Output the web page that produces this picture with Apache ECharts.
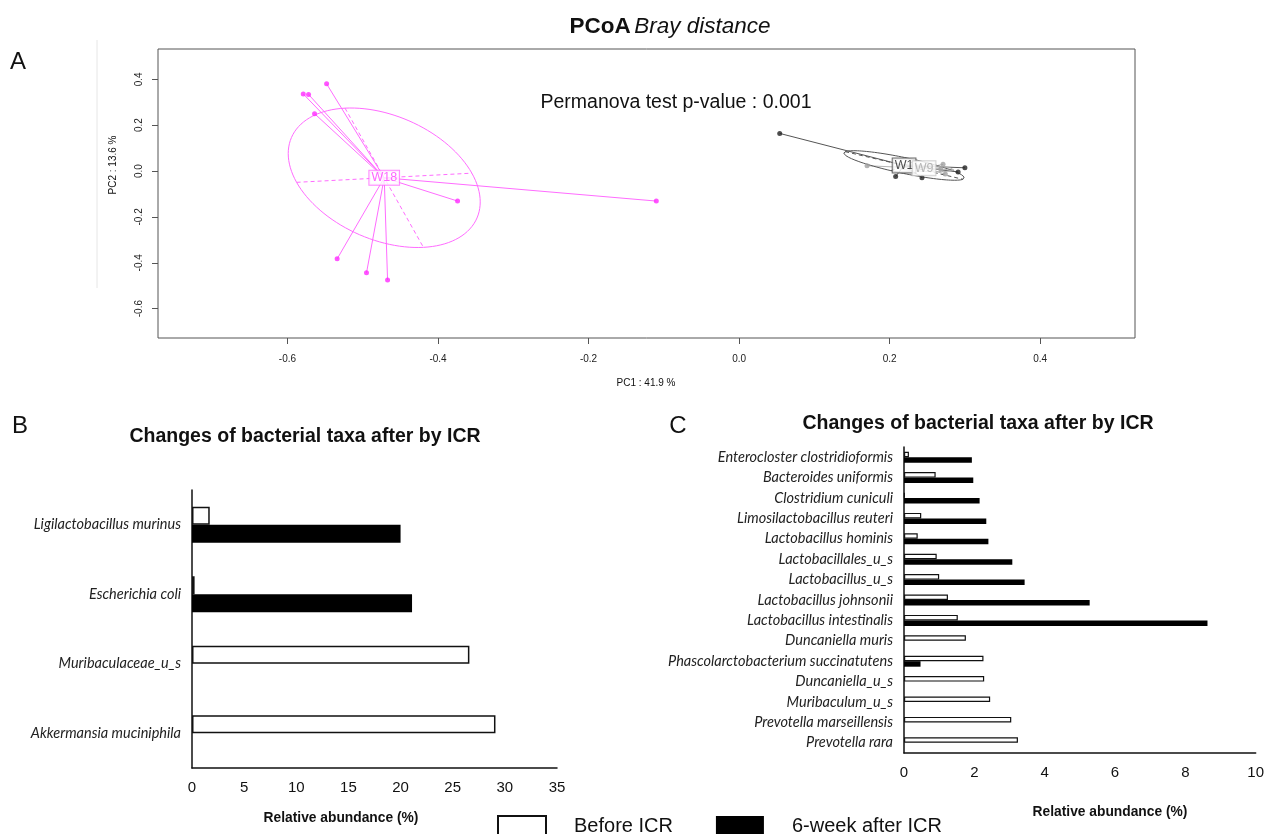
<!DOCTYPE html>
<html>
<head>
<meta charset="utf-8">
<script src="https://cdn.jsdelivr.net/npm/echarts@6/dist/echarts.min.js"></script>
<style>html,body{margin:0;padding:0;background:#fff}#c{width:1267px;height:834px}</style>
</head>
<body>
<div id="c"></div>
<script>
// ---------- Panel A data (PCoA, Bray distance) ----------
const w18Points = [[-0.579,0.336],[-0.572,0.334],[-0.548,0.380],[-0.564,0.250],[-0.374,-0.131],[-0.534,-0.383],[-0.495,-0.444],[-0.467,-0.475],[-0.110,-0.131]];
const w1Points  = [[0.054,0.164],[0.208,-0.024],[0.243,-0.029],[0.291,-0.004],[0.300,0.014]];
const w9Points  = [[0.170,0.023],[0.271,0.029],[0.268,0.009],[0.274,-0.013]];
const pcoaXTicks = [-0.6,-0.4,-0.2,0.0,0.2,0.4];
const pcoaYTicks = [-0.6,-0.4,-0.2,0.0,0.2,0.4];

// ---------- Panel B data ----------
const taxaB   = ['Ligilactobacillus murinus','Escherichia coli','Muribaculaceae_u_s','Akkermansia muciniphila'];
const beforeB = [1.7, 0.25, 26.6, 29.1];
const afterB  = [20.0, 21.1, 0, 0];

// ---------- Panel C data ----------
const taxaC = ['Enterocloster clostridioformis','Bacteroides uniformis','Clostridium cuniculi','Limosilactobacillus reuteri','Lactobacillus hominis','Lactobacillales_u_s','Lactobacillus_u_s','Lactobacillus johnsonii','Lactobacillus intestinalis','Duncaniella muris','Phascolarctobacterium succinatutens','Duncaniella_u_s','Muribaculum_u_s','Prevotella marseillensis','Prevotella rara'];
const beforeC = [0.14, 0.90, 0.02, 0.49, 0.39, 0.93, 1.00, 1.25, 1.53, 1.76, 2.26, 2.28, 2.45, 3.05, 3.24];
const afterC  = [1.93, 1.97, 2.15, 2.34, 2.40, 3.08, 3.43, 5.28, 8.63, 0, 0.47, 0, 0, 0, 0];

// ---------- helpers ----------
function groupStats(pts, k) {
  const n = pts.length;
  let mx = 0, my = 0;
  pts.forEach(p => { mx += p[0]; my += p[1]; });
  mx /= n; my /= n;
  let sxx = 0, syy = 0, sxy = 0;
  pts.forEach(p => { const dx = p[0]-mx, dy = p[1]-my; sxx += dx*dx; syy += dy*dy; sxy += dx*dy; });
  sxx /= n; syy /= n; sxy /= n;
  const tr = sxx + syy, det = sxx*syy - sxy*sxy;
  const disc = Math.sqrt(Math.max(tr*tr/4 - det, 0));
  const l1 = tr/2 + disc, l2 = Math.max(tr/2 - disc, 0);
  const th = 0.5*Math.atan2(2*sxy, sxx - syy);
  const v1 = [Math.cos(th), Math.sin(th)], v2 = [-Math.sin(th), Math.cos(th)];
  const a = k*Math.sqrt(l1), b = k*Math.sqrt(l2);
  const ell = [];
  for (let i = 0; i <= 120; i++) {
    const t = 2*Math.PI*i/120;
    ell.push([mx + a*Math.cos(t)*v1[0] + b*Math.sin(t)*v2[0], my + a*Math.cos(t)*v1[1] + b*Math.sin(t)*v2[1]]);
  }
  const axes = [
    {coords: [[mx - a*v1[0], my - a*v1[1]], [mx + a*v1[0], my + a*v1[1]]]},
    {coords: [[mx - b*v2[0], my - b*v2[1]], [mx + b*v2[0], my + b*v2[1]]]}
  ];
  const spokes = pts.map(p => ({coords: [[mx, my], p]}));
  return {center: [mx, my], ell, axes, spokes};
}

const K = 0.9;
const groups = [
  {name: 'W18', pts: w18Points, line: '#ff6cff', pt: '#ff2bff', text: '#ff3cff', border: '#ff6cff'},
  {name: 'W1',  pts: w1Points,  line: '#555555', pt: '#222222', text: '#222222', border: '#444444'},
  {name: 'W9',  pts: w9Points,  line: '#b4b4b4', pt: '#a0a0a0', text: '#a8a8a8', border: '#c4c4c4'}
];

const pcoaSeries = [];
groups.forEach(g => {
  const s = groupStats(g.pts, K);
  pcoaSeries.push({type: 'lines', coordinateSystem: 'cartesian2d', xAxisIndex: 0, yAxisIndex: 0, silent: true, z: 2,
    lineStyle: {color: g.line, width: 1, opacity: 1}, data: s.spokes});
  pcoaSeries.push({type: 'lines', coordinateSystem: 'cartesian2d', xAxisIndex: 0, yAxisIndex: 0, silent: true, z: 2,
    lineStyle: {color: g.line, width: 1, type: [4, 3], opacity: 1}, data: s.axes});
  pcoaSeries.push({type: 'line', xAxisIndex: 0, yAxisIndex: 0, data: s.ell, showSymbol: false, smooth: false, silent: true, z: 2,
    lineStyle: {color: g.line, width: 1}});
  pcoaSeries.push({type: 'scatter', xAxisIndex: 0, yAxisIndex: 0, data: g.pts, symbolSize: 5, z: 3,
    itemStyle: {color: g.pt}});
  pcoaSeries.push({type: 'scatter', xAxisIndex: 0, yAxisIndex: 0, data: [s.center], symbolSize: 2, z: 5,
    itemStyle: {color: 'rgba(255,255,255,0)'},
    label: {show: true, position: 'inside', formatter: g.name, color: g.text, fontSize: 12.5, fontFamily: 'Liberation Sans',
      backgroundColor: '#fff', borderColor: g.border, borderWidth: 1, padding: [1, 2, 0, 2]}});
});

const catLabel = {fontFamily: 'Lato', fontStyle: 'italic', fontSize: 14.5, color: '#222', margin: 11};
const blackAxis = {show: true, lineStyle: {color: '#111', width: 1.5}};
const center = {textAlign: 'center', textVerticalAlign: 'middle', align: 'center', verticalAlign: 'middle', fill: '#111'};
function txt(x, y, text, font, extra) {
  return Object.assign({type: 'text', x: x, y: y, silent: true, style: Object.assign({text: text, font: font}, center)}, extra || {});
}

const chart = echarts.init(document.getElementById('c'), null, {renderer: 'canvas'});
const option = {
  animation: false,
  backgroundColor: '#fff',
  textStyle: {fontFamily: 'Liberation Sans'},
  grid: [
    {left: 158, top: 49, width: 977, height: 289, show: true, borderColor: '#555', borderWidth: 1, backgroundColor: 'transparent'},
    {left: 192, top: 490, width: 365, height: 278},
    {left: 904, top: 447, width: 354, height: 306}
  ],
  xAxis: [
    {gridIndex: 0, type: 'value', min: -0.772, max: 0.526, splitLine: {show: false}, axisLine: {show: false, onZero: false},
      axisTick: {show: true, customValues: pcoaXTicks, length: 6, lineStyle: {color: '#555'}},
      axisLabel: {customValues: pcoaXTicks, formatter: v => v.toFixed(1), fontSize: 10, margin: 16, color: '#222'}},
    {gridIndex: 1, type: 'value', min: 0, max: 35, interval: 5, splitLine: {show: false}, axisLine: blackAxis,
      axisTick: {show: false}, axisLabel: {fontSize: 15, color: '#111', margin: 12}},
    {gridIndex: 2, type: 'value', min: 0, max: 10, interval: 2, splitLine: {show: false}, axisLine: blackAxis,
      axisTick: {show: false}, axisLabel: {fontSize: 15, color: '#111', margin: 12}}
  ],
  yAxis: [
    {gridIndex: 0, type: 'value', min: -0.728, max: 0.532, splitLine: {show: false}, axisLine: {show: false, onZero: false},
      axisTick: {show: true, customValues: pcoaYTicks, length: 6, lineStyle: {color: '#555'}},
      axisLabel: {customValues: pcoaYTicks, formatter: v => v.toFixed(1), fontSize: 10, margin: 14, color: '#222', rotate: 90}},
    {gridIndex: 1, type: 'category', data: taxaB, inverse: true, axisLine: blackAxis, axisTick: {show: false},
      axisLabel: catLabel},
    {gridIndex: 2, type: 'category', data: taxaC, inverse: true, axisLine: blackAxis, axisTick: {show: false},
      axisLabel: catLabel}
  ],
  legend: {
    left: 492, top: 810, itemWidth: 48, itemHeight: 20, itemGap: 43, icon: 'rect',
    data: ['Before ICR', '6-week after ICR'],
    textStyle: {fontSize: 20, color: '#111', fontFamily: 'Liberation Sans', padding: [0, 0, 0, 23]}
  },
  series: pcoaSeries.concat([
    {name: 'Before ICR', type: 'bar', xAxisIndex: 1, yAxisIndex: 1, data: beforeB, barWidth: 18, barGap: '0%',
      itemStyle: {color: '#fff', borderColor: '#111', borderWidth: 1.5}},
    {name: '6-week after ICR', type: 'bar', xAxisIndex: 1, yAxisIndex: 1, data: afterB, barWidth: 18, barGap: '0%',
      itemStyle: {color: '#000', borderColor: '#000', borderWidth: 0}},
    {name: 'Before ICR', type: 'bar', xAxisIndex: 2, yAxisIndex: 2, data: beforeC, barWidth: 5.5, barGap: '0%',
      itemStyle: {color: '#fff', borderColor: '#111', borderWidth: 1.2}},
    {name: '6-week after ICR', type: 'bar', xAxisIndex: 2, yAxisIndex: 2, data: afterC, barWidth: 5.5, barGap: '0%',
      itemStyle: {color: '#000', borderColor: '#000', borderWidth: 0}}
  ]),
  graphic: [
    {type: 'line', shape: {x1: 97, y1: 40, x2: 97, y2: 288}, style: {stroke: '#e6e6e6', lineWidth: 1}, silent: true},
    {type: 'text', x: 670, y: 27, silent: true, style: Object.assign({text: '{b|PCoA} {i|Bray distance}',
      rich: {b: {fontWeight: 'bold', fontSize: 22.5, fontFamily: 'Liberation Sans'}, i: {fontStyle: 'italic', fontSize: 22.5, fontFamily: 'Liberation Sans'}}}, center)},
    txt(18, 62, 'A', '24px Liberation Sans'),
    txt(676, 103, 'Permanova test p-value : 0.001', '19.5px Liberation Sans'),
    txt(646, 383, 'PC1 : 41.9 %', '10px Liberation Sans'),
    txt(113, 165, 'PC2 : 13.6 %', '10px Liberation Sans', {rotation: Math.PI/2}),
    txt(20, 426, 'B', '24px Liberation Sans'),
    txt(678, 426, 'C', '24px Liberation Sans'),
    txt(305, 437, 'Changes of bacterial taxa after by ICR', 'bold 19.5px Liberation Sans'),
    txt(978, 424, 'Changes of bacterial taxa after by ICR', 'bold 19.5px Liberation Sans'),
    txt(341, 818, 'Relative abundance (%)', 'bold 13.8px Liberation Sans'),
    txt(1110, 812, 'Relative abundance (%)', 'bold 13.8px Liberation Sans')
  ]
};
chart.setOption(option);
</script>
</body>
</html>
